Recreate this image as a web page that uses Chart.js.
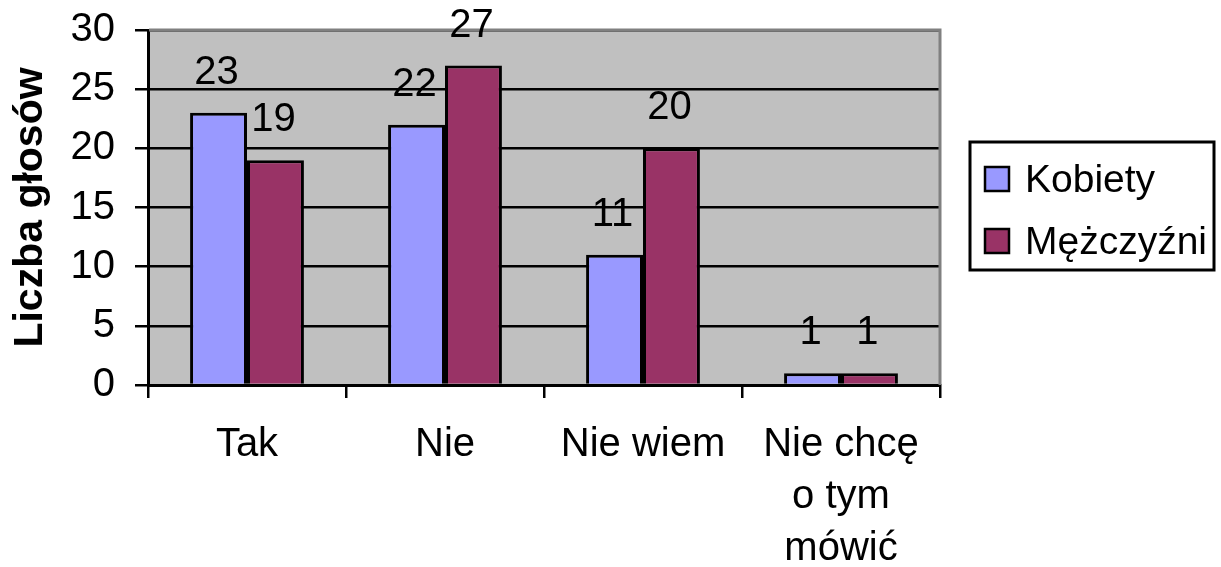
<!DOCTYPE html>
<html>
<head>
<meta charset="utf-8">
<script src="https://cdn.jsdelivr.net/npm/chart.js@4.4.0/dist/chart.umd.min.js"></script>
<style>
  html, body { margin: 0; padding: 0; background: #fff; }
  #wrap { width: 1221px; height: 567px; }
</style>
</head>
<body>
<div id="wrap"><canvas id="glosy" width="1221" height="567"></canvas></div>
<script>
// dane z wykresu
const kategorie = ["Tak", "Nie", "Nie wiem", ["Nie chcę", "o tym", "mówić"]];
const kobiety = [23, 22, 11, 1];
const mezczyzni = [19, 27, 20, 1];
const serie = ["Kobiety", "Mężczyźni"];
const kolory = ["#9999FF", "#993366"];
const osY = { min: 0, max: 30, krok: 5 };

Chart.defaults.font.family = "'Liberation Sans', Arial, sans-serif";
Chart.defaults.color = "#000";

// szare tlo i ramka obszaru wykresu
const tlo = {
  id: "tlo",
  beforeDraw(chart) {
    const a = chart.chartArea, c = chart.ctx;
    c.save();
    c.fillStyle = "#C0C0C0";
    c.fillRect(a.left, a.top, a.right - a.left, a.bottom - a.top);
    c.restore();
  },
  beforeDatasetsDraw(chart) {
    const a = chart.chartArea, c = chart.ctx;
    c.save();
    c.strokeStyle = "#808080";
    c.lineWidth = 3;
    c.beginPath();
    c.moveTo(a.left + 1, a.top);
    c.lineTo(a.right, a.top);
    c.lineTo(a.right, a.bottom);
    c.stroke();
    c.restore();
  }
};

// etykiety wartosci nad slupkami
const etykiety = {
  id: "etykiety",
  afterDatasetsDraw(chart) {
    const c = chart.ctx;
    c.save();
    c.font = "40px 'Liberation Sans', Arial, sans-serif";
    c.fillStyle = "#000";
    c.textAlign = "center";
    c.textBaseline = "alphabetic";
    chart.data.datasets.forEach((ds, i) => {
      chart.getDatasetMeta(i).data.forEach((bar, j) => {
        c.fillText(ds.data[j], bar.x - 2, bar.y - 29);
      });
    });
    c.restore();
  }
};

// legenda w ramce po prawej
const legenda = {
  id: "legenda",
  afterDraw(chart) {
    const a = chart.chartArea, c = chart.ctx;
    const x0 = a.right + 30, y0 = 142;
    c.save();
    c.strokeStyle = "#000";
    c.lineWidth = 3;
    c.strokeRect(x0, y0, 244, 128);
    c.font = "39px 'Liberation Sans', Arial, sans-serif";
    c.textBaseline = "alphabetic";
    chart.data.datasets.forEach((ds, i) => {
      const yb = y0 + 36 + i * 62;
      c.fillStyle = ds.backgroundColor;
      c.fillRect(x0 + 15, yb - 11, 24, 24);
      c.lineWidth = 2.5;
      c.strokeRect(x0 + 15, yb - 11, 24, 24);
      c.fillStyle = "#000";
      c.fillText(ds.label, x0 + 55, yb + 14);
    });
    c.restore();
  }
};

new Chart(document.getElementById("glosy"), {
  type: "bar",
  data: {
    labels: kategorie,
    datasets: [
      { label: serie[0], data: kobiety, backgroundColor: kolory[0], borderColor: "#000", borderWidth: 3 },
      { label: serie[1], data: mezczyzni, backgroundColor: kolory[1], borderColor: "#000", borderWidth: 3 }
    ]
  },
  options: {
    responsive: false,
    animation: false,
    layout: { padding: { top: 30, right: 281, left: 0, bottom: 0 } },
    datasets: { bar: { categoryPercentage: 0.575, barPercentage: 1 } },
    plugins: { legend: { display: false }, tooltip: { enabled: false } },
    scales: {
      x: {
        afterFit(s) { s.height = 182; s.paddingLeft = 0; s.paddingRight = 0; },
        grid: { offset: true, drawOnChartArea: false, color: "#000", lineWidth: 2.5, tickLength: 13 },
        border: { color: "#000", width: 3 },
        ticks: { font: { size: 40, lineHeight: 1.3 }, padding: 21, maxRotation: 0, autoSkip: false }
      },
      y: {
        min: osY.min,
        max: osY.max,
        afterFit(s) { s.width = 148; s.paddingTop = 0; s.paddingBottom = 0; },
        grid: { color: "#000", lineWidth: 2.5, tickLength: 13 },
        border: { color: "#000", width: 3 },
        ticks: { stepSize: osY.krok, font: { size: 40 }, padding: 20 },
        title: { display: true, text: "Liczba głosów", font: { size: 41, weight: "bold" }, padding: { top: 6, bottom: 0 } }
      }
    }
  },
  plugins: [tlo, etykiety, legenda]
});
</script>
</body>
</html>
